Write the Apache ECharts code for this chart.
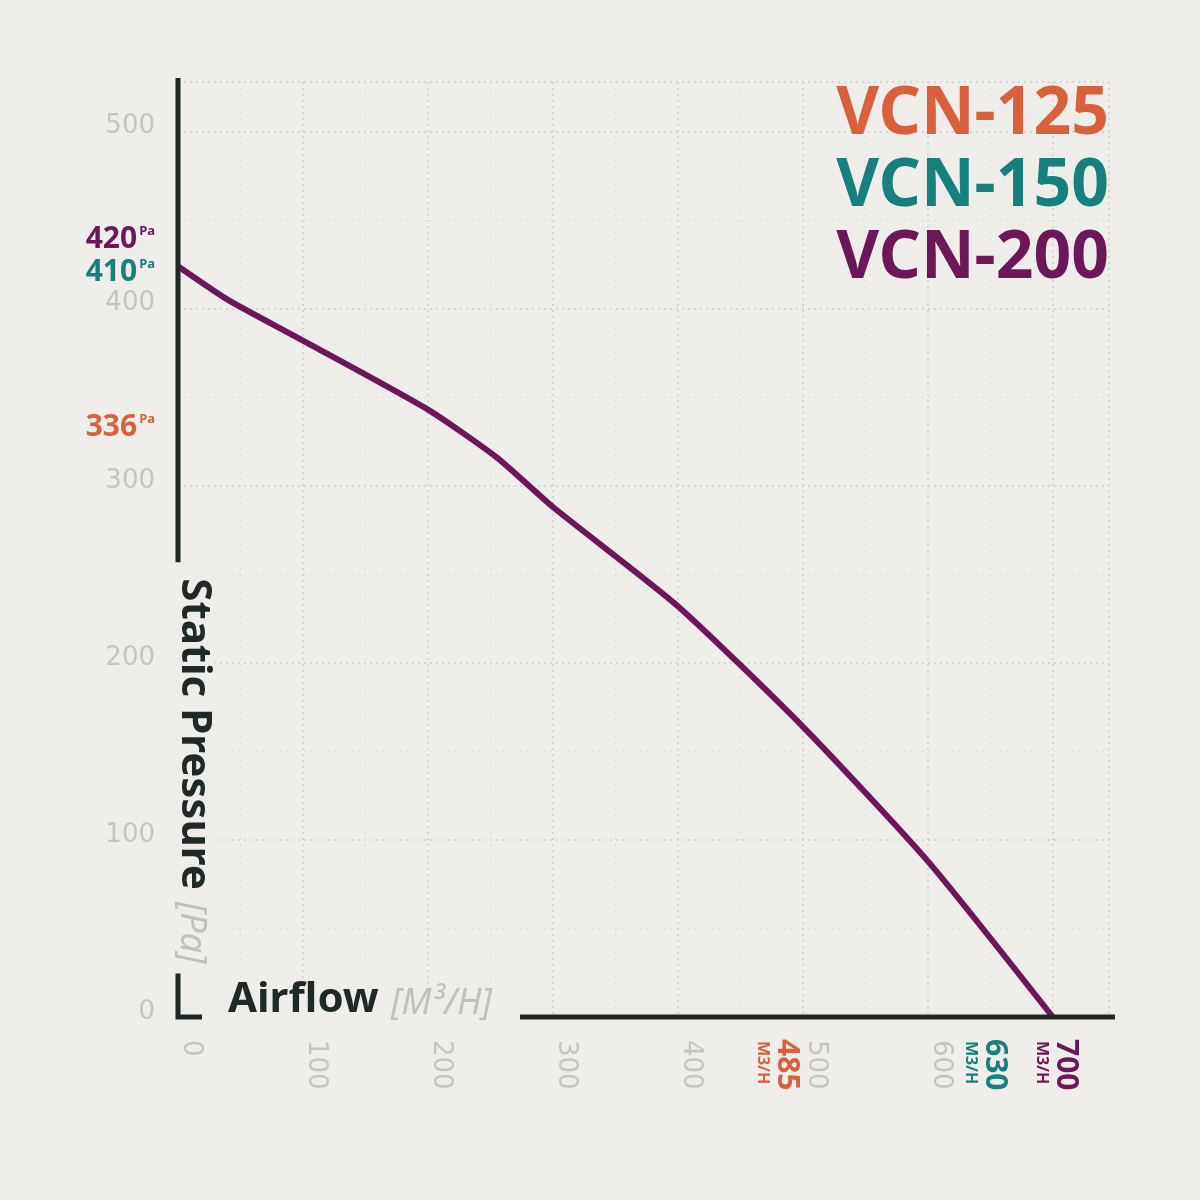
<!DOCTYPE html>
<html>
<head>
<meta charset="utf-8">
<title>VCN fan curve</title>
<script src="https://cdn.jsdelivr.net/npm/echarts@6/dist/echarts.min.js"></script>
<style>
  html, body { margin: 0; padding: 0; background: #eeede9; }
  #chart { width: 1200px; height: 1200px; }
</style>
</head>
<body>
<div id="chart"></div>
<script>
// VCN-200 curve (m3/h -> Pa)
const airflow = [0, 40, 100, 200, 255, 300, 400, 500, 600, 700];
const pressure = [424, 405, 382, 343, 316, 288, 232, 164, 88, 0];

const models = ['VCN-125', 'VCN-150', 'VCN-200'];
const modelColors = ['#d8603d', '#17807c', '#6c1858'];
const maxPressure = [336, 410, 420]; // Pa, marked on the y axis
const maxAirflow = [485, 630, 700]; // m3/h, marked on the x axis

const X_MAX = 745;
const Y_MAX = 528;

const INK = '#1f2a27';
const GREY = '#c4c4c1';
const BG = '#eeede9';
const FONT = '"Noto Sans", sans-serif';
const TICK_FONT = '"DejaVu Sans", sans-serif';

const chart = echarts.init(document.getElementById('chart'));

const ctx = document.createElement('canvas').getContext('2d');
function textWidth(str, font) {
  ctx.font = font;
  return ctx.measureText(str).width;
}

chart.setOption({
  backgroundColor: BG,
  animation: false,
  grid: { left: 178, right: 91, top: 82, bottom: 183 },
  xAxis: {
    type: 'value',
    min: 0,
    max: X_MAX,
    interval: 100,
    axisLine: { show: false },
    axisTick: { show: false },
    minorTick: { show: true, splitNumber: 2, length: 0 },
    splitLine: {
      show: true,
      showMinLine: false,
      lineStyle: { color: '#cbcbc8', width: 1.5, type: [2, 4] }
    },
    minorSplitLine: {
      show: true,
      lineStyle: { color: '#e0dfdb', width: 1.2, type: [2, 4] }
    },
    axisLabel: {
      rotate: -90,
      margin: 23,
      color: GREY,
      fontSize: 26,
      fontFamily: TICK_FONT,
      verticalAlign: 'bottom',
      showMaxLabel: false
    }
  },
  yAxis: {
    type: 'value',
    min: 0,
    max: Y_MAX,
    interval: 100,
    axisLine: { show: false },
    axisTick: { show: false },
    minorTick: { show: true, splitNumber: 2, length: 0 },
    splitLine: {
      show: true,
      showMinLine: false,
      lineStyle: { color: '#cbcbc8', width: 1.5, type: [2, 4] }
    },
    minorSplitLine: {
      show: true,
      lineStyle: { color: '#e0dfdb', width: 1.2, type: [2, 4] }
    },
    axisLabel: {
      margin: 23,
      color: GREY,
      fontSize: 26,
      lineHeight: 10,
      fontFamily: TICK_FONT,
      verticalAlign: 'bottom',
      showMaxLabel: false
    }
  },
  series: [
    {
      name: models[2],
      type: 'line',
      smooth: 0.2,
      symbol: 'none',
      lineStyle: { color: modelColors[2], width: 6 },
      data: airflow.map((x, i) => [x, pressure[i]])
    }
  ]
});

function drawAnnotations() {
  const [ox, oy] = chart.convertToPixel({ gridIndex: 0 }, [0, 0]);
  const [xEnd, yTop] = chart.convertToPixel({ gridIndex: 0 }, [X_MAX, Y_MAX]);
  const yNameStart = chart.convertToPixel({ gridIndex: 0 }, [0, 250])[1];

  const nameFont = 'bold 42px ' + FONT;
  const unitFont = 'italic 36px ' + FONT;
  const wStatic = textWidth('Static Pressure', nameFont);
  const wPa = textWidth('[Pa]', unitFont);
  const wAir = textWidth('Airflow', nameFont);
  const wM3 = textWidth('[M³/H]', unitFont);

  const els = [];
  const line = { stroke: INK, lineWidth: 5 };

  // y axis, broken by its title
  els.push({ type: 'line', shape: { x1: ox, y1: yTop - 4, x2: ox, y2: yNameStart - 12 }, style: line });
  els.push({
    type: 'text', x: ox - 5, y: yNameStart, rotation: -Math.PI / 2,
    style: { text: 'Static Pressure', font: nameFont, fill: INK, align: 'left', verticalAlign: 'bottom', backgroundColor: BG, padding: [0, 4, 0, 4] }
  });
  const paStart = yNameStart + wStatic + 12;
  els.push({
    type: 'text', x: ox - 5, y: paStart, rotation: -Math.PI / 2,
    style: { text: '[Pa]', font: unitFont, fill: '#c0c0bd', align: 'left', verticalAlign: 'bottom', backgroundColor: BG, padding: [0, 4, 0, 4] }
  });
  const cornerTop = paStart + wPa + 14;
  els.push({
    type: 'polyline',
    shape: { points: [[ox, cornerTop], [ox, oy], [ox + 24, oy]] },
    style: Object.assign({ fill: null, lineJoin: 'miter' }, line)
  });

  // x axis, broken by its title
  const airStart = ox + 46;
  els.push({
    type: 'text', x: airStart, y: oy + 4,
    style: { text: 'Airflow', font: nameFont, fill: INK, align: 'left', verticalAlign: 'bottom', backgroundColor: BG, padding: [0, 4, 0, 4] }
  });
  const m3Start = airStart + wAir + 12;
  els.push({
    type: 'text', x: m3Start, y: oy + 5,
    style: { text: '[M³/H]', font: unitFont, fill: '#c0c0bd', align: 'left', verticalAlign: 'bottom', backgroundColor: BG, padding: [0, 4, 0, 4] }
  });
  els.push({ type: 'line', shape: { x1: m3Start + wM3 + 32, y1: oy, x2: xEnd + 6, y2: oy }, style: line });

  // max pressure per model, left of the y axis
  const yNudge = [5, -19, -34];
  maxPressure.forEach((v, i) => {
    const py = chart.convertToPixel({ gridIndex: 0 }, [0, v])[1];
    els.push({
      type: 'text', x: ox - 23, y: py + yNudge[i],
      style: {
        text: '{n|' + v + '}{p|Pa}',
        align: 'right', verticalAlign: 'middle',
        rich: {
          n: { fontSize: 30, fontWeight: 'bold', fontFamily: FONT, fill: modelColors[i] },
          p: { fontSize: 13, fontWeight: 'bold', fontFamily: FONT, fill: modelColors[i], padding: [0, 0, 16, 2] }
        }
      }
    });
  });

  // max airflow per model, under the x axis
  const xNudge = [-13, 14, -2];
  maxAirflow.forEach((v, i) => {
    const px = chart.convertToPixel({ gridIndex: 0 }, [v, 0])[0] + xNudge[i];
    els.push({
      type: 'text', x: px, y: oy + 22, rotation: -Math.PI / 2,
      style: { text: String(v), font: 'bold 30px ' + FONT, fill: modelColors[i], align: 'left', verticalAlign: 'bottom' }
    });
    els.push({
      type: 'text', x: px - 1, y: oy + 24, rotation: -Math.PI / 2,
      style: { text: 'M3/H', font: 'bold 16px ' + FONT, fill: modelColors[i], align: 'left', verticalAlign: 'top' }
    });
  });

  // model names, top right
  models.forEach((m, i) => {
    els.push({
      type: 'text', x: xEnd, y: yTop + 33 + i * 72,
      style: { text: m, font: 'bold 66px ' + FONT, fill: modelColors[i], align: 'right', verticalAlign: 'middle' }
    });
  });

  chart.setOption({ graphic: { elements: els.map(e => Object.assign({ z: 100 }, e)) } });
}

drawAnnotations();
</script>
</body>
</html>
